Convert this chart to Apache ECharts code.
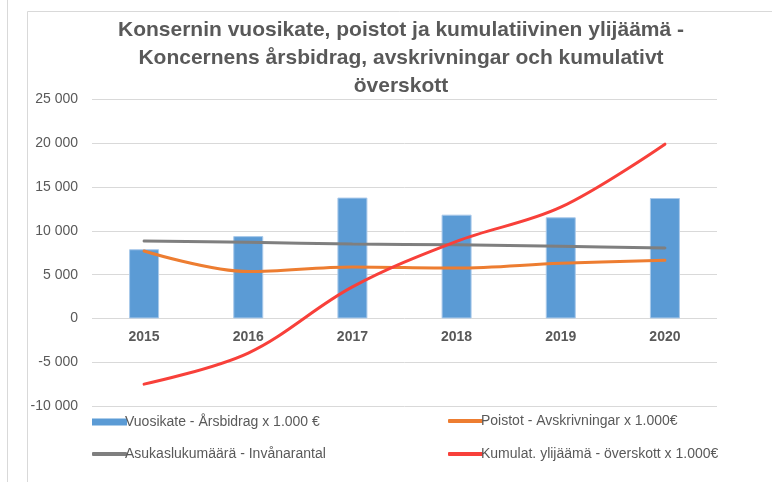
<!DOCTYPE html>
<html>
<head>
<meta charset="utf-8">
<script src="https://cdn.jsdelivr.net/npm/echarts@6/dist/echarts.min.js"></script>
<style>
html,body{margin:0;padding:0;background:#fff;}
#main{width:772px;height:482px;}
</style>
</head>
<body>
<div id="main"></div>
<script>
const titleText = 'Konsernin vuosikate, poistot ja kumulatiivinen ylijäämä -\nKoncernens årsbidrag, avskrivningar och kumulativt\növerskott';
const categories = ['2015', '2016', '2017', '2018', '2019', '2020'];
const seriesNames = [
  'Vuosikate - Årsbidrag x 1.000 €',
  'Poistot - Avskrivningar x 1.000€',
  'Asukaslukumäärä - Invånarantal',
  'Kumulat. ylijäämä - överskott x 1.000€'
];
const vuosikate = [7900, 9400, 13800, 11850, 11550, 13750];
const poistot = [7700, 5350, 5880, 5750, 6300, 6640];
const asukasluku = [8850, 8700, 8500, 8400, 8240, 8050];
const kumulat = [-7500, -3950, 3600, 8800, 12700, 19900];
const yMin = -10000, yMax = 25000, yStep = 5000;

const FONT = "'Liberation Sans', sans-serif";
const TXT = '#595959';
const chart = echarts.init(document.getElementById('main'), null, {renderer: 'canvas'});
const fmt = v => {
  const s = Math.abs(v).toString().replace(/\B(?=(\d{3})+(?!\d))/g, ' ');
  return (v < 0 ? '-' : '') + s;
};
const gridTop = 99.5, gridBottom = 76, H = 482;
const plotH = H - gridTop - gridBottom;
const zeroOffset = plotH * (0 - yMin) / (yMax - yMin);

function leg(name, icon, left, top, h) {
  return {
    data: [{name: name, icon: icon}],
    left: left, top: top, itemWidth: 35, itemHeight: h,
    itemStyle: {borderWidth: 0},
    textStyle: {fontFamily: FONT, fontSize: 14, color: TXT, padding: [0, 0, 0, -7]}
  };
}
chart.setOption({
  backgroundColor: '#fff',
  animation: false,
  textStyle: {fontFamily: FONT},
  graphic: [
    {type: 'line', shape: {x1: 7.5, y1: 0, x2: 7.5, y2: 482}, style: {stroke: '#d9d9d9', lineWidth: 1}},
    {type: 'line', shape: {x1: 27.5, y1: 11.5, x2: 27.5, y2: 482}, style: {stroke: '#d9d9d9', lineWidth: 1}},
    {type: 'line', shape: {x1: 27.5, y1: 11.5, x2: 772, y2: 11.5}, style: {stroke: '#d9d9d9', lineWidth: 1}}
  ],
  title: {
    text: titleText,
    left: 396, top: 11, textAlign: 'center',
    textStyle: {fontFamily: FONT, fontSize: 21, fontWeight: 'bold', color: TXT, lineHeight: 28}
  },
  legend: [
    leg(seriesNames[0], 'rect', 87, 410, 7),
    leg(seriesNames[1], 'roundRect', 443, 409, 4),
    leg(seriesNames[2], 'roundRect', 87, 442, 4),
    leg(seriesNames[3], 'roundRect', 443, 442, 4)
  ],
  grid: {left: 92, right: 55, top: gridTop, bottom: gridBottom, containLabel: false},
  xAxis: {
    type: 'category', data: categories,
    offset: -zeroOffset,
    axisLine: {show: false, onZero: false},
    axisTick: {show: false},
    axisLabel: {fontFamily: FONT, fontSize: 14, fontWeight: 'bold', color: TXT, margin: 12}
  },
  yAxis: {
    type: 'value', min: yMin, max: yMax, interval: yStep,
    axisLine: {show: false}, axisTick: {show: false},
    splitLine: {lineStyle: {color: '#d9d9d9', width: 1}},
    axisLabel: {fontFamily: FONT, fontSize: 14, color: TXT, margin: 14, formatter: fmt}
  },
  series: [
    {name: seriesNames[0], type: 'bar', data: vuosikate, barWidth: 30,
     itemStyle: {color: '#5b9bd5', borderColor: '#a9c9ea', borderWidth: 1}},
    {name: seriesNames[1], type: 'line', data: poistot, smooth: 0.35, showSymbol: false, symbol: 'none',
     lineStyle: {color: '#ed7d31', width: 3, cap: 'round'}, itemStyle: {color: '#ed7d31'}},
    {name: seriesNames[2], type: 'line', data: asukasluku, smooth: 0.35, showSymbol: false, symbol: 'none',
     lineStyle: {color: '#7f7f7f', width: 3, cap: 'round'}, itemStyle: {color: '#7f7f7f'}},
    {name: seriesNames[3], type: 'line', data: kumulat, smooth: 0.35, showSymbol: false, symbol: 'none',
     lineStyle: {color: '#f8403a', width: 3, cap: 'round'}, itemStyle: {color: '#f8403a'}}
  ]
});
</script>
</body>
</html>
